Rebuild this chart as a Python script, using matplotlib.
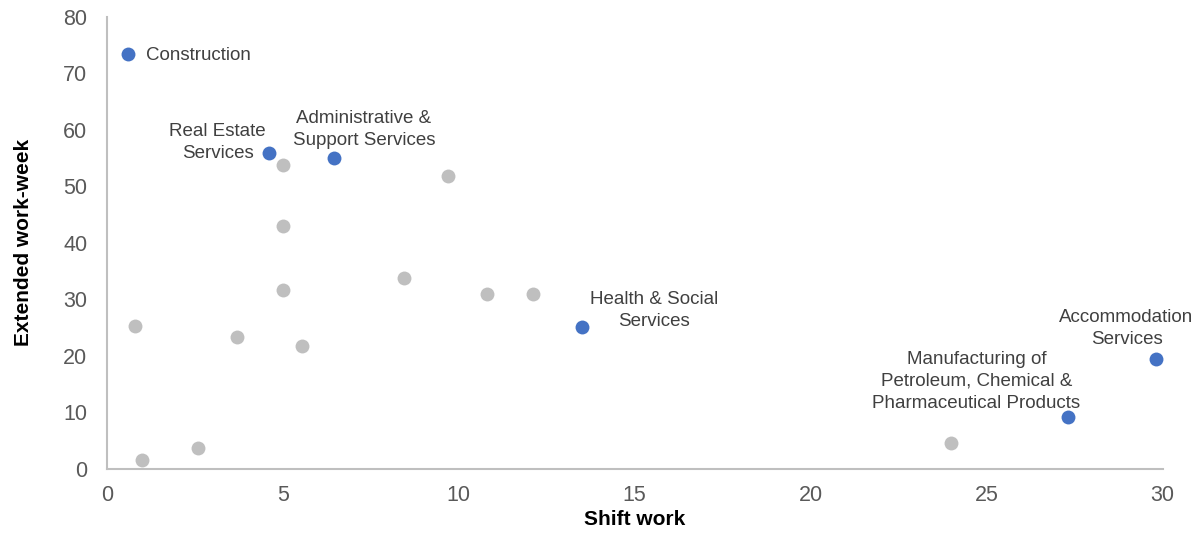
import matplotlib.pyplot as plt

plt.rcParams["font.family"] = ["Liberation Sans", "DejaVu Sans"]

# highlighted industries
hl_names = ["Construction", "Real Estate\nServices", "Administrative &\nSupport Services",
            "Health & Social\nServices", "Accommodation\nServices",
            "Manufacturing of\nPetroleum, Chemical &\nPharmaceutical Products"]
hl_shift = [0.6, 4.6, 6.45, 13.5, 29.8, 27.3]
hl_week  = [73.4, 55.9, 54.9, 25.0, 19.4, 9.1]

# remaining industries
other_shift = [5.0, 9.7, 5.0, 8.45, 5.0, 10.8, 12.1, 0.8, 3.7, 5.55, 1.0, 2.6, 24.0]
other_week  = [53.8, 51.8, 42.9, 33.8, 31.6, 30.9, 30.9, 25.2, 23.3, 21.7, 1.5, 3.6, 4.5]

# label offsets in pixels and alignment per highlighted point
offsets = [(18, -2), (-51, 10), (30, 29), (72, 17), (-29, 30), (-91, 36)]
aligns  = ["left", "center", "center", "center", "center", "center"]

fig, ax = plt.subplots(figsize=(12.01, 5.33), dpi=100)
fig.subplots_adjust(left=0.089, right=0.968, bottom=0.121, top=0.969)

ax.scatter(other_shift, other_week, s=100, color="#bfbfbf", linewidths=0, zorder=3)
ax.scatter(hl_shift, hl_week, s=100, color="#4472c4", linewidths=0, zorder=4)

for name, x, y, off, ha in zip(hl_names, hl_shift, hl_week, offsets, aligns):
    ax.annotate(name, (x, y), xytext=off, textcoords="offset pixels",
                ha=ha, va="center", multialignment="center",
                fontsize=13.5, color="#404040", linespacing=1.38)

ax.set_xlim(0, 30)
ax.set_ylim(0, 80)
ax.set_xticks(range(0, 31, 5))
ax.set_yticks(range(0, 81, 10))
ax.tick_params(length=0, labelsize=15.5, labelcolor="#595959")
ax.tick_params(axis="x", pad=12)
ax.tick_params(axis="y", pad=14)
ax.set_xlabel("Shift work", fontsize=15, fontweight="bold", labelpad=3)
ax.set_ylabel("Extended work-week", fontsize=15, fontweight="bold", labelpad=22)

for side in ["top", "right"]:
    ax.spines[side].set_visible(False)
for side in ["left", "bottom"]:
    ax.spines[side].set_color("#bfbfbf")
    ax.spines[side].set_linewidth(1.5)

plt.savefig("out.png", dpi=100)
plt.close()
